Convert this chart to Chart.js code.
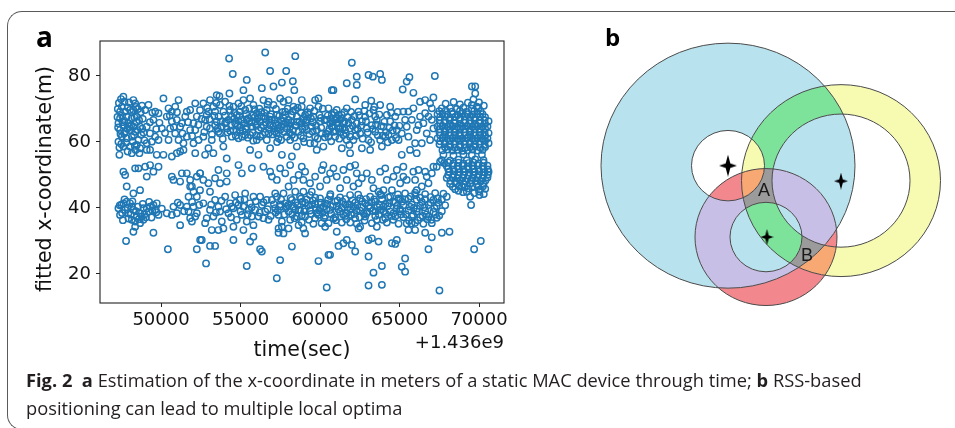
<!DOCTYPE html>
<html>
<head>
<meta charset="utf-8">
<script src="https://cdn.jsdelivr.net/npm/chart.js@4.4.0/dist/chart.umd.min.js"></script>
<style>
  html, body { margin: 0; padding: 0; background: #fff; }
  body { width: 955px; height: 428px; position: relative; overflow: hidden; font-family: "Open Sans", sans-serif; }
  #frame { position: absolute; left: 7px; top: 11px; width: 1000px; height: 419px; box-sizing: border-box;
           border: 1.3px solid #5a5a5a; border-right: none; border-radius: 15px 0 0 15px; }
  #chartA { position: absolute; left: 0; top: 0; }
  #chartB { position: absolute; left: 580px; top: 20px; }
  .panel { position: absolute; font-weight: 700; color: #000; line-height: 1; }
  #caption { position: absolute; left: 26px; top: 366px; font-size: 18.3px; line-height: 28px; color: #231f20; white-space: nowrap; }
  #caption b { font-weight: 700; }
</style>
</head>
<body>
<div id="frame"></div>
<canvas id="chartA" width="520" height="370"></canvas>
<canvas id="chartB" width="375" height="300"></canvas>
<div class="panel" style="left:36px; top:22px; font-size:28px;">a</div>
<div class="panel" style="left:605px; top:25px; font-size:24px;">b</div>
<div id="caption"><b>Fig. 2</b>&nbsp; <b>a</b> Estimation of the x-coordinate in meters of a static MAC device through time; <b>b</b> RSS-based<br>positioning can lead to multiple local optima</div>

<script>
// ---- panel a : fitted x-coordinate vs time (seconds after 1.436e9) ----
var OFFSET_LABEL = '+1.436e9';
var Y_TITLE = 'fitted x-coordinate(m)';
var xTicks = [50000, 55000, 60000, 65000, 70000];
var yTicks = [20, 40, 60, 80];

// 47000 - 52500 s
var ptsA = [
  [47630,73.7],[47700,72.2],[48260,72.7],[48370,71.7],[47530,70.7],[47420,69.2],[47740,69.2],[48050,69.7],[48260,69.7],[47420,67.2],
  [47840,67.7],[48160,67.2],[48470,67.7],[47320,65.7],[47630,65.1],[47950,65.7],[48260,64.6],[48680,64.6],[47420,63.6],[47740,63.1],
  [48050,63.6],[48370,63.1],[47530,61.6],[47840,61.1],[48160,61.6],[48580,60.6],[47320,60.1],[47630,58.6],[48050,58.6],[48470,59.1],
  [48680,58.1],[47380,56.1],[48160,56.6],[48640,56.6],[49100,57.6],[49210,71.2],[49630,69.2],[49000,69.7],[49520,66.7],[49100,64.6],
  [49310,62.6],[49630,61.6],[49420,60.1],[49100,59.6],[49840,60.6],[50150,56.1],[50680,55.6],[49730,56.1],[49310,57.6],[50150,73.2],
  [51100,72.7],[50470,70.2],[50680,69.2],[50360,67.7],[50990,66.7],[50570,64.1],[51200,64.6],[50890,62.6],[50470,60.6],[51100,60.6],
  [51410,59.6],[51200,57.1],[51620,61.6],[51830,63.6],[52040,65.7],[51520,67.7],[51830,69.7],[52150,71.7],[52250,67.7],[52150,63.6],
  [52040,59.6],[52150,56.6],[52360,60.6],[50990,56.6],[51410,57.6],[51310,65.7],[51620,69.2],[50680,66.2],[50050,64.1],[49840,68.7],
  [50890,70.7],
  [47350,71.8],[47550,68.0],[47700,66.4],[47900,70.5],[48000,64.6],[48150,69.0],[48300,62.1],[48450,66.0],[48550,70.0],[48750,62.2],
  [48850,67.0],[48950,60.5],[47450,62.4],[47800,59.8],[47380,58.3],[48400,57.6],[48800,71.0],[49300,66.0],[49450,68.9],[49700,63.9],
  [49900,65.8],[50250,62.7],[50550,68.0],[50800,64.5],[51000,69.0],[51350,62.6],[51700,66.0],[51950,61.8],[52350,65.2],[52450,69.6],
  [47280,70.0],[47480,73.0],[47580,66.0],[47680,62.6],[47880,64.0],[47980,72.0],[48120,65.1],[48220,60.1],[48330,67.4],[48420,70.6],
  [48520,63.6],[48620,66.6],[48720,69.0],[48820,64.0],[47300,64.4],[47500,59.4],[47900,57.1],[48350,58.8],[47260,67.6],[48900,62.8],
  [47630,51.0],[47740,50.0],[48370,52.0],[48580,52.0],[49000,52.5],[49310,53.0],[49520,51.0],[49840,52.5],[49100,49.5],[47840,46.5],
  [48260,44.4],[48680,45.4],[50680,49.5],[50780,48.5],[51200,48.0],[51310,50.5],[51620,50.5],[51830,48.5],[51940,46.5],[52040,44.9],
  [52250,49.5],[52460,50.5],
  [47320,39.9],[47420,37.9],[47630,41.4],[47840,41.9],[48050,41.4],[48160,40.4],[47740,39.4],[47950,38.4],[48260,39.4],[48160,36.4],
  [48370,35.9],[48470,37.4],[48680,38.4],[48790,37.4],[48890,36.4],[48370,34.3],[48680,35.4],[48890,39.9],[49100,39.9],[49310,40.4],
  [49520,40.9],[49630,39.4],[49210,38.9],[49840,37.9],[49730,41.4],[48260,32.8],[49520,32.5],[50360,38.4],[50780,40.4],[50680,37.9],
  [50990,38.4],[51200,40.9],[51620,40.4],[51730,38.9],[51830,36.9],[51940,35.9],[52150,37.4],[52250,38.4],[52040,40.4],[51200,34.8],
  [51730,43.4],[52250,43.4],[51830,46.5],
  [47500,41.0],[47900,40.1],[48100,38.0],[48550,40.4],[48950,38.0],[49400,37.1],[47600,36.3],[50050,39.8],[51050,41.6],[51450,39.0],
  [51950,41.8],[52400,40.9],
  [47400,40.8],[47700,42.6],[47950,36.8],[48200,42.0],[48420,39.0],[48600,36.6],[48850,41.2],[49050,37.2],[49250,41.8],[49450,39.2],
  [49700,38.7],[47550,38.5],
  [47800,30.0],[50430,27.5],[52250,27.5],[52460,30.3]
];

// 52500 - 58700 s
var ptsB = [
  [54280,85.3],[56550,87.1],[58440,86.0],[54510,80.6],[56860,81.5],[57870,81.5],[55390,78.8],[57600,78.0],[58290,78.4],[53500,74.2],
  [53670,73.9],[54300,74.7],[55180,75.7],[56340,76.3],[57070,76.8],[58380,75.7],
  [52660,71.7],[52980,69.2],[52770,66.7],[53080,64.1],[52660,61.6],[53290,70.7],[53610,67.7],[53400,65.1],[53710,62.6],[53190,60.6],
  [54030,72.2],[53920,69.2],[54240,66.7],[54130,64.1],[54450,61.6],[54550,70.7],[54760,68.2],[54660,65.7],[54970,63.6],[54870,61.1],
  [55180,72.7],[55290,69.7],[55500,67.2],[55390,64.6],[55600,62.1],[55810,71.2],[56020,68.7],[55920,66.2],[56130,63.6],[56230,61.6],
  [56440,72.7],[56650,69.7],[56550,67.2],[56860,65.1],[56760,62.6],[57070,71.2],[57280,68.2],[57180,65.7],[57490,63.6],[57390,61.1],
  [57700,72.2],[57810,69.2],[58020,66.7],[57910,64.1],[58230,62.1],[58330,70.7],[58540,67.7],[58440,65.1],[58650,63.1],[58120,60.6],
  [52870,68.2],[53500,66.2],[54340,69.7],[55080,66.7],[55710,64.6],[56340,67.7],[56970,66.7],[57600,66.2],[58230,68.2],[53820,64.6],
  [54550,63.6],[55290,62.1],[56020,60.6],[56650,60.6],[57280,62.6],[57910,61.6],[53080,72.7],[53710,71.2],[54870,71.7],[55600,73.2],
  [56760,72.2],[57490,73.2],[58020,72.7],[53400,69.2],[54450,67.7],[55810,68.2],[56440,65.1],[57700,67.2],[58440,69.7],[54970,69.2],
  [54030,65.7],[56860,67.7],[57390,65.1],[58120,64.6],[56230,66.2],[55390,66.7],[52870,64.6],[53610,63.1],
  [52550,67.0],[52720,63.0],[52900,70.3],[53050,66.9],[53200,62.3],[53350,67.9],[53480,71.8],[53560,64.0],[53770,66.1],[53880,60.9],
  [54020,68.0],[54180,62.9],[54300,70.9],[54400,65.0],[54600,67.0],[54700,61.9],[54820,64.9],[54930,67.9],[55050,70.8],[55140,63.3],
  [55240,65.6],[55350,68.5],[55460,61.3],[55550,70.2],[55680,66.0],[55760,62.9],[55880,69.9],[55990,64.9],[56080,67.3],[56180,70.1],
  [56290,64.3],[56390,62.2],[56500,68.8],[56600,65.9],[56700,71.3],[56800,63.9],[56910,68.4],[57020,62.3],[57120,66.8],[57230,70.0],
  [57330,64.1],[57440,67.9],[57550,60.6],[57650,69.1],[57750,63.0],[57860,66.0],[57960,70.1],[58070,62.9],[58180,66.0],[58280,69.3],
  [58390,61.3],[58500,64.9],[58600,70.4],
  [54100,66.0],[54350,63.3],[54600,68.9],[54850,66.4],[55100,61.6],[55300,64.0],[55550,66.2],[55800,60.4],[56050,65.4],[56300,69.0],
  [56550,62.9],[56800,66.8],[57050,64.6],[57300,60.0],[57550,64.8],[57800,68.2],[58050,65.5],[58300,63.6],[58550,66.1],[56000,62.0],
  [55000,64.4],[57700,65.4],[57150,63.2],[55900,67.6],[54750,63.3],
  [52980,58.1],[52770,56.1],[53290,56.6],[53920,58.6],[54130,55.0],[55600,57.6],[56130,56.1],[56860,58.1],[57600,56.1],[58540,58.6],
  [58230,55.6],
  [52450,50.5],[52660,48.5],[52980,47.5],[53400,49.0],[53710,47.5],[53610,51.5],[54130,50.5],[54130,48.0],[54870,53.0],[55080,50.5],
  [55710,52.0],[56440,52.5],[56860,51.0],[56970,49.5],[57280,48.5],[57490,52.0],[57810,50.5],[58020,46.5],[58330,48.5],[58440,44.9],
  [57700,44.4],[57180,44.4],[58120,53.0],[58650,50.0],[52450,45.4],[53080,44.9],
  [52660,41.4],[53080,39.4],[52870,36.9],[53400,42.4],[53610,40.4],[53290,37.4],[53820,35.9],[54030,43.4],[54340,41.4],[54240,38.4],
  [54550,39.9],[54760,36.4],[54970,42.4],[55180,40.4],[55080,37.9],[55390,35.9],[55600,41.4],[55810,43.4],[55920,39.4],[56130,37.4],
  [56340,40.9],[56550,38.9],[56760,36.4],[56970,42.4],[57180,39.9],[57390,37.9],[57600,35.9],[57810,41.4],[58020,38.9],[58230,42.4],
  [58330,40.4],[58540,37.4],[58650,34.8],[58120,36.4],[53710,38.9],[54660,43.9],[55290,44.4],[56230,43.4],[57280,43.4],[56650,42.4],
  [54870,40.9],[55500,39.4],[57910,40.4],[58440,39.4],[57490,40.4],[56440,36.9],[55710,37.4],[54450,40.4],
  [53150,41.0],[53450,38.6],[53800,42.2],[54100,39.6],[54400,37.2],[54700,41.6],[55000,39.0],[55250,42.6],[55450,38.1],[55700,40.2],
  [55950,42.0],[56200,38.6],[56450,41.7],[56700,39.6],[56900,37.6],[57100,41.1],[57350,39.2],[57550,42.6],[57750,38.0],[58000,40.9],
  [58250,38.1],[58450,41.6],[58650,39.4],
  [57200,38.6],[57500,41.1],[57850,39.9],[58150,43.0],[58400,36.9],[58600,40.8],
  [52770,35.4],[53190,33.3],[53610,33.3],[53920,33.8],[54550,34.3],[55180,33.3],[55810,34.8],[57390,33.8],[57700,32.3],[57600,34.3],
  [58020,33.8],[55810,31.3],[54550,30.3],[55600,29.8],[52560,30.3],[53080,28.5],[53400,28.5],[57390,32.5],[56230,27.5],[56340,26.8],
  [58230,28.3],[52830,23.2],[55390,22.4],[57490,24.2],[57280,18.7]
];

// 58700 - 65000 s
var ptsC = [
  [62000,84.0],[62310,79.8],[63050,80.3],[63780,80.6],[63320,79.8],[63890,78.8],[61680,77.8],[62310,77.3],[60740,75.7],[60840,75.7],
  [59900,73.2],[59690,72.7],[62210,72.9],[63220,72.5],
  [58850,72.7],[58850,70.7],[59060,68.2],[58850,65.7],[59160,63.6],[58950,61.1],[59370,59.6],[59690,61.6],[59480,64.6],[59580,67.7],
  [59900,70.7],[60000,66.2],[59790,57.6],[60210,58.6],[60110,62.6],[60530,70.2],[60740,68.2],[60630,65.7],[60840,63.1],[60530,61.6],
  [61050,69.7],[61260,66.7],[61160,64.1],[61470,62.1],[61370,68.2],[61680,70.2],[61790,65.7],[61580,63.6],[62000,66.7],[61890,61.6],
  [60950,66.7],[61370,58.1],[61890,56.6],[62100,60.6],[62210,63.6],[62420,69.2],[62630,66.2],[62520,62.6],[62840,67.7],[62940,64.1],
  [63050,60.6],[63150,57.6],[63360,69.7],[63570,66.7],[63470,63.1],[63780,60.6],[63890,58.6],[63990,64.6],[64200,68.2],[64310,62.1],
  [64410,66.2],[64520,60.6],[64730,67.7],[64830,63.6],[64940,60.6],[63780,71.2],[64410,70.7],[62840,71.2],[62630,58.1],[63260,65.1],
  [60740,64.6],[61050,65.7],[61260,64.1],[61470,65.7],[60950,61.6],[61680,60.6],[61160,68.2],[61890,64.1],[60420,66.7],[62310,65.7],
  [63470,67.7],[64100,61.6],[59160,66.7],[59370,70.2],
  [58700,66.2],[58800,68.9],[58900,63.9],[59000,60.0],[59110,65.9],[59220,69.0],[59320,62.4],[59430,67.1],[59540,63.1],[59640,69.4],
  [59750,65.0],[59850,61.0],[59960,68.2],[60070,64.3],[60170,70.1],[60280,66.6],[60380,62.5],[60490,68.0],[60590,64.0],[60700,60.2],
  [60800,66.1],[60900,68.9],[61000,63.2],[61110,66.0],[61210,61.0],[61320,67.1],[61420,64.2],[61530,69.0],[61630,62.6],[61740,67.5],
  [61840,59.1],[61950,69.1],[62050,64.9],[62160,67.8],[62260,61.9],[62370,63.9],[62470,68.1],[62580,64.9],[62680,61.0],[62790,69.4],
  [62890,66.3],[63000,62.9],[63100,68.6],[63210,59.9],[63310,63.9],[63420,70.6],[63520,65.3],[63630,62.0],[63730,68.3],[63840,64.8],
  [63940,61.9],[64050,66.1],[64150,63.0],[64260,59.9],[64360,64.3],[64470,68.9],[64570,63.5],[64680,65.0],[64780,61.2],[64880,69.1],
  [64990,64.9],
  [58800,61.9],[59050,64.6],[59300,68.3],[59550,66.0],[59800,63.6],[60050,67.3],[60300,61.4],[60550,63.3],[60800,64.8],[61050,67.1],
  [61300,63.0],[59650,59.6],[60650,67.0],[61550,66.2],[58950,66.9],
  [58850,52.5],[59060,51.0],[58950,48.5],[59370,47.5],[59690,49.5],[60110,51.5],[60210,53.0],[60000,46.5],[60420,48.5],[60630,50.5],
  [60840,52.0],[61050,49.5],[61470,51.5],[61680,48.5],[61890,52.5],[62210,53.0],[62310,50.5],[62100,46.5],[62420,47.5],[62630,49.0],
  [62940,50.5],[63260,48.5],[63360,46.0],[63780,51.0],[64100,52.0],[64200,48.5],[64620,49.5],[64830,51.5],[65040,47.5],[63990,45.4],
  [61260,46.0],[59480,44.9],
  [58740,43.4],[59370,43.9],[60000,42.9],[60630,43.6],[61260,43.2],[61890,43.9],[62520,42.9],[63150,43.4],[63780,44.2],[64410,43.4],
  [64940,42.9],[59060,41.6],[59690,41.2],[60320,41.4],[60950,41.9],[61580,41.1],[62210,41.6],[62840,41.4],[63470,41.9],[64100,41.2],
  [64730,41.6],[58740,39.4],[59370,39.2],[60000,39.9],[60630,39.4],[61260,38.9],[61890,39.6],[62520,39.2],[63150,39.9],[63780,39.4],
  [64410,38.9],[65040,39.6],[59060,37.4],[59690,36.9],[60320,37.6],[60950,37.2],[61580,37.6],[62210,36.9],[62840,37.4],[63470,37.6],
  [64100,36.9],[64730,37.4],[58850,35.6],[59580,35.2],[60530,35.4],[61370,35.6],[62310,35.2],[63260,35.4],[64200,35.6],[64940,35.2],
  [59160,42.6],[60210,40.4],[61050,40.6],[62100,40.4],[62940,38.4],[63990,40.4],[64620,38.4],[59790,38.4],[61680,38.4],[63570,36.4],
  [58950,44.9],[63680,44.9],[64520,45.4],
  [58850,37.7],[58900,41.9],[59050,39.6],[59250,40.7],[59450,38.2],[59550,42.3],[59750,40.0],[59900,37.9],[60050,41.6],[60150,38.5],
  [60400,39.6],[60500,42.4],[60700,38.2],[60800,40.5],[61000,36.3],[61100,42.3],[61350,40.0],[61450,38.0],[61600,42.7],[61750,40.2],
  [61950,37.9],[62050,42.3],[62300,39.3],[62400,44.0],[62600,40.2],[62750,38.3],[62900,42.7],[63050,40.6],[63300,39.1],[63400,42.6],
  [63600,40.3],[63700,38.0],[63900,42.6],[64000,39.0],[64250,40.5],[64300,43.2],[64500,37.6],[64600,42.0],[64800,39.8],[64900,44.1],
  [58800,42.8],[59000,38.9],[59300,36.4],[59500,41.0],[59700,43.1],[59950,39.2],[60250,37.0],[60450,41.2],[60650,44.2],[60850,36.8],
  [61150,39.6],[61400,42.0],[61650,36.6],[61850,41.0],[62150,38.2],[62350,40.8],[62650,42.0],[62800,36.2],[63000,38.9],[63250,41.7],
  [63500,39.0],[63750,41.0],[63950,36.4],[64150,38.2],[64350,41.4],[64600,36.4],[64850,40.7],[63850,43.9],[61900,35.6],[60100,35.4],
  [62500,37.2],
  [58950,33.8],[59060,32.3],[60320,34.3],[61050,32.8],[61680,30.3],[61470,29.3],[62000,28.8],[62520,34.3],[62420,33.8],[63050,30.3],
  [63260,30.8],[63570,34.3],[63680,29.8],[64520,29.3],[64730,29.1],[64830,30.3],
  [61160,28.5],[62210,26.8],[60530,25.8],[60630,25.8],[59900,23.9],[63050,25.3],[63360,20.4],[63890,22.4],[60420,15.9],[63050,16.5],
  [63890,16.7]
];

// 65000 - 70600 s
var ptsD = [
  [65620,79.6],[65450,78.3],[65200,75.9],[67220,80.0],[65870,74.9],[67130,73.5],[66290,72.2],[66610,72.7],[66920,71.7],[67030,70.2],
  [69550,76.8],[69760,76.8],[69760,74.7],[69650,72.9],[69550,71.2],[69860,70.7],
  [65240,69.2],[65560,69.2],[65770,66.7],[65450,64.6],[65140,62.6],[65560,61.6],[66080,63.6],[66290,67.7],[66500,65.7],[66710,62.6],
  [66400,59.6],[66920,60.6],[65980,59.6],[65660,57.6],[67030,66.7],[66610,68.7],[67130,64.1],[66080,56.6],[65140,56.1],[65870,70.2],
  [66190,65.1],[65350,66.7],[66820,67.7],
  [67900,71.6],[68400,72.1],[68800,71.4],[69300,71.9],[70000,72.0],[70300,71.0],
  [67660,70.2],[68180,70.2],[68600,70.0],[69020,70.4],[69550,70.1],[69970,70.3],
  [67500,69.3],[67900,69.5],[68300,69.2],[68800,69.4],[69200,69.1],[69700,69.4],[70100,69.3],
  [67390,68.4],[67700,68.6],[68020,68.3],[68330,68.5],[68650,68.2],[68960,68.6],[69280,68.4],[69590,68.3],[69900,68.5],[70220,68.4],
  [67550,67.5],[67860,67.7],[68180,67.4],[68490,67.6],[68810,67.3],[69120,67.8],[69440,67.5],[69750,67.4],[70070,67.7],[70380,67.5],
  [67510,66.6],[67830,66.4],[68140,66.7],[68460,66.5],[68770,66.8],[69090,66.6],[69400,66.4],[69720,66.7],[70030,66.5],[70350,66.6],[70600,66.3],
  [67550,65.6],[67860,65.8],[68180,65.4],[68490,65.7],[68810,65.5],[69120,65.8],[69440,65.6],[69750,65.4],[70070,65.7],[70380,65.5],
  [67390,64.7],[67700,64.9],[68020,64.6],[68330,64.8],[68650,64.5],[68960,64.7],[69280,64.9],[69590,64.6],[69900,64.8],[70220,64.5],[70530,64.7],
  [67550,63.8],[67860,63.6],[68180,63.9],[68490,63.7],[68810,64.0],[69120,63.8],[69440,63.6],[69750,63.9],[70070,63.7],[70380,64.0],
  [67510,62.9],[67830,63.1],[68140,62.8],[68460,63.0],[68770,62.7],[69090,62.9],[69400,63.1],[69720,62.8],[70030,63.0],[70350,62.9],[70600,62.7],
  [67550,62.0],[67860,62.2],[68180,61.9],[68490,62.1],[68810,61.8],[69120,62.0],[69440,62.2],[69750,61.9],[70070,62.1],[70380,61.8],
  [67390,61.1],[67700,61.3],[68020,61.0],[68330,61.2],[68650,60.9],[68960,61.1],[69280,61.3],[69590,61.0],[69900,61.2],[70220,60.9],[70530,61.1],
  [67550,60.2],[67860,60.0],[68180,60.3],[68490,60.1],[68810,60.4],[69120,60.2],[69440,60.0],[69750,60.3],[70070,60.1],[70380,60.4],
  [67510,59.3],[67830,59.5],[68140,59.2],[68460,59.4],[68770,59.1],[69090,59.3],[69400,59.5],[69720,59.2],[70030,59.4],[70350,59.1],[70600,59.6],
  [67860,58.4],[68180,58.6],[68490,58.3],[68810,58.5],[69120,58.2],[69440,58.4],[69750,58.6],[70070,58.3],[70380,58.5],
  [67700,57.5],[68020,57.7],[68330,57.4],[68650,57.6],[68960,57.3],[69280,57.5],[69590,57.7],[69900,57.4],[70220,57.6],
  [67760,56.1],[68390,55.9],[69020,56.2],[69550,56.0],[70180,56.1],
  [67660,54.5],[68180,54.3],[68710,54.6],[69230,54.4],[69760,54.7],[70280,54.5],
  [67800,53.6],[68060,53.8],[68390,53.5],[68710,53.7],[69020,53.4],[69340,53.6],[69650,53.8],[69970,53.5],[70290,53.7],
  [67970,52.7],[68330,52.9],[68650,52.6],[68960,52.8],[69280,52.5],[69590,52.7],[69900,52.9],[70220,52.6],[70530,52.8],
  [68060,51.8],[68390,51.6],[68710,51.9],[69020,51.7],[69340,52.0],[69650,51.8],[69970,51.6],[70290,51.9],[70550,51.7],
  [68140,50.9],[68460,51.1],[68770,50.8],[69090,51.0],[69400,50.7],[69720,50.9],[70030,51.1],[70350,50.8],[70600,51.0],
  [68060,50.0],[68390,50.2],[68710,49.9],[69020,50.1],[69340,49.8],[69650,50.0],[69970,50.2],[70290,49.9],[70550,50.1],
  [67970,49.1],[68330,49.3],[68650,49.0],[68960,49.2],[69280,48.9],[69590,49.1],[69900,49.3],[70220,49.0],[70530,49.2],
  [68200,48.2],[68500,48.0],[68800,48.3],[69150,48.1],[69500,48.4],[69800,48.2],[70100,48.0],[70400,48.3],
  [68180,47.3],[68600,47.5],[69020,47.2],[69440,47.4],[69860,47.1],[70280,47.3],
  [68350,46.4],[68750,46.6],[69100,46.3],[69600,46.5],[69950,46.4],[70250,46.6],
  [68500,45.7],[69340,45.9],[70070,45.6],[70390,45.8],
  [69700,44.5],[70000,45.0],[70300,44.2],[69000,44.8],[68700,45.2],
  [69500,40.9],[70030,43.9],[69440,43.4],[69230,44.9],[68920,46.5],[67550,54.0],[67340,52.5],
  [65240,52.5],[65870,51.0],[66190,51.5],[65980,48.5],[66610,51.0],[66710,49.5],[67030,50.5],[67130,52.5],[66400,46.5],[66820,47.5],
  [65450,48.5],[66080,45.4],[65240,49.5],
  [65350,44.4],[65980,44.6],[66610,44.2],[67240,44.5],[67760,44.3],
  [65030,42.6],[65560,42.8],[66080,42.5],[66610,42.7],[67130,42.4],[67660,42.6],
  [65240,40.8],[65770,41.0],[66290,40.7],[66820,40.9],[67340,40.6],[67870,40.8],
  [65030,39.0],[65560,39.2],[66080,38.9],[66610,39.1],[67130,38.8],[67660,39.0],
  [65240,37.2],[65770,37.4],[66290,37.1],[66820,37.3],[67340,37.0],
  [65450,35.3],[65980,35.5],[66500,35.2],[67030,35.4],[67970,43.4],
  [65150,41.9],[65400,38.1],[65700,43.5],[65900,40.0],[66150,36.3],[66400,41.8],[66700,38.0],[66950,43.3],[67200,39.9],[67450,41.6],
  [67500,37.7],[65600,36.1],[66000,43.9],[67000,36.4],
  [65100,38.1],[65350,42.6],[65650,40.4],[65850,37.9],[66100,39.8],[66300,43.1],[66550,40.2],[66750,36.6],[66950,41.6],[67250,38.0],
  [67400,42.9],[65750,35.3],[66450,37.6],
  [65560,33.3],[65980,33.3],[66610,32.5],[67030,31.1],[67660,32.5],[68140,32.8],[66820,27.5],[65350,24.7],[65140,22.2],[65350,20.7],
  [69690,27.5],[70110,30.0],[67510,15.0]
];

// ---- panel b : three RSS rings (arbitrary units, y up) ----
var ringCx    = [0, 113, 38];
var ringCy    = [0, -15.5, -74];
var ringOuter = [127, 99.5, 71];
var ringInner = [36.5, 69, 36];
var starX = [0, 113, 39];
var starY = [0, -16, -74];
var optimaNames = ['A', 'B'];
var optimaX = [36, 79];
var optimaY = [-26, -94];

// colours for blue(1) / yellow(2) / purple(4) overlaps
var regionColors = [null, '#b8e2ee', '#f7fbb2', '#7de39b', '#f2878d', '#c8bfe6', '#f8a872', '#9b9b9b'];

var scatterData = ptsA.concat(ptsB, ptsC, ptsD).map(function (p) { return {x: p[0], y: p[1]}; });

var tickFont = {family: 'DejaVu Sans', size: 18};
var titleFont = {family: 'DejaVu Sans', size: 20.5};

var frameBox = {
  id: 'frameBox',
  afterDraw: function (chart) {
    var ctx = chart.ctx, a = chart.chartArea;
    ctx.save();
    ctx.strokeStyle = '#222';
    ctx.lineWidth = 1.1;
    ctx.strokeRect(a.left, a.top, a.right - a.left, a.bottom - a.top);
    ctx.font = '18px "DejaVu Sans"';
    ctx.fillStyle = '#111';
    ctx.textAlign = 'right';
    ctx.textBaseline = 'middle';
    ctx.fillText(OFFSET_LABEL, a.right, a.bottom + 40);
    // y title, centred a little below the axes middle as in the figure
    ctx.font = '20.5px "DejaVu Sans"';
    ctx.textAlign = 'center';
    ctx.translate(46, (a.top + a.bottom) / 2 + 7);
    ctx.rotate(-Math.PI / 2);
    ctx.fillText(Y_TITLE, 0, 0);
    ctx.restore();
  }
};

new Chart(document.getElementById('chartA'), {
  type: 'scatter',
  data: {
    datasets: [{
      data: scatterData,
      pointStyle: 'circle',
      pointRadius: 3.2,
      borderWidth: 1.45,
      borderColor: '#1f77b4',
      backgroundColor: 'rgba(0,0,0,0)'
    }]
  },
  options: {
    responsive: false,
    animation: false,
    devicePixelRatio: 1,
    events: [],
    layout: {autoPadding: false, padding: {left: 0, top: 41, right: 16, bottom: 7}},
    plugins: {legend: {display: false}, tooltip: {enabled: false}},
    scales: {
      x: {
        type: 'linear', min: 46160, max: 71570,
        afterBuildTicks: function (s) { s.ticks = xTicks.map(function (v) { return {value: v}; }); },
        afterFit: function (s) { s.height = 60; },
        ticks: {font: tickFont, color: '#111', padding: 3, maxRotation: 0, autoSkip: false,
                callback: function (v) { return String(v); }},
        grid: {display: true, drawOnChartArea: false, tickLength: 4, color: '#222', lineWidth: 1},
        border: {display: false},
        title: {display: true, text: 'time(sec)', font: titleFont, color: '#111', padding: {top: 0, bottom: 0}}
      },
      y: {
        type: 'linear', min: 11.2, max: 90.6,
        afterBuildTicks: function (s) { s.ticks = yTicks.map(function (v) { return {value: v}; }); },
        afterFit: function (s) { s.width = 100; },
        ticks: {font: tickFont, color: '#111', padding: 5, callback: function (v) { return String(v); }},
        grid: {display: true, drawOnChartArea: false, tickLength: 4, color: '#222', lineWidth: 1},
        border: {display: false},
        title: {display: false}
      }
    }
  },
  plugins: [frameBox]
});

// ---- panel b ----
function starCanvas(w, h) {
  var c = document.createElement('canvas');
  c.width = w; c.height = h;
  var g = c.getContext('2d');
  var cx = w / 2, cy = h / 2, k = w * 0.13;
  g.beginPath();
  g.moveTo(cx, 0);
  g.lineTo(cx + k, cy - k);
  g.lineTo(w, cy);
  g.lineTo(cx + k, cy + k);
  g.lineTo(cx, h);
  g.lineTo(cx - k, cy + k);
  g.lineTo(0, cy);
  g.lineTo(cx - k, cy - k);
  g.closePath();
  g.fillStyle = '#000';
  g.fill();
  return c;
}

var ringsPlugin = {
  id: 'rings',
  beforeDatasetsDraw: function (chart) {
    var ctx = chart.ctx, xs = chart.scales.x, ys = chart.scales.y;
    var W = chart.width, H = chart.height;
    var rings = ringCx.map(function (cx, i) {
      var px = xs.getPixelForValue(cx), py = ys.getPixelForValue(ringCy[i]);
      var sx = xs.getPixelForValue(cx + 1) - px, sy = py - ys.getPixelForValue(ringCy[i] + 1);
      return {px: px, py: py, ox: ringOuter[i] * sx, oy: ringOuter[i] * sy, ix: ringInner[i] * sx, iy: ringInner[i] * sy};
    });
    function addRing(r) {
      ctx.moveTo(r.px + r.ox, r.py);
      ctx.ellipse(r.px, r.py, r.ox, r.oy, 0, 0, Math.PI * 2);
      ctx.moveTo(r.px + r.ix, r.py);
      ctx.ellipse(r.px, r.py, r.ix, r.iy, 0, 0, Math.PI * 2);
    }
    for (var m = 1; m < 8; m++) {
      ctx.save();
      rings.forEach(function (r, i) {
        ctx.beginPath();
        if (!(m & (1 << i))) ctx.rect(-10, -10, W + 20, H + 20);
        addRing(r);
        ctx.clip('evenodd');
      });
      ctx.fillStyle = regionColors[m];
      ctx.fillRect(0, 0, W, H);
      ctx.restore();
    }
    ctx.save();
    ctx.strokeStyle = '#4a4a4a';
    ctx.lineWidth = 1;
    rings.forEach(function (r) {
      ctx.beginPath();
      ctx.ellipse(r.px, r.py, r.ox, r.oy, 0, 0, Math.PI * 2);
      ctx.stroke();
      ctx.beginPath();
      ctx.ellipse(r.px, r.py, r.ix, r.iy, 0, 0, Math.PI * 2);
      ctx.stroke();
    });
    ctx.restore();
  },
  afterDatasetsDraw: function (chart) {
    var ctx = chart.ctx, xs = chart.scales.x, ys = chart.scales.y;
    ctx.save();
    ctx.font = '18px "Liberation Sans"';
    ctx.fillStyle = '#1a1a1a';
    ctx.textAlign = 'center';
    ctx.textBaseline = 'middle';
    optimaNames.forEach(function (t, i) {
      ctx.fillText(t, xs.getPixelForValue(optimaX[i]), ys.getPixelForValue(optimaY[i]));
    });
    ctx.restore();
  }
};

new Chart(document.getElementById('chartB'), {
  type: 'scatter',
  data: {
    datasets: [{
      data: starX.map(function (x, i) { return {x: x, y: starY[i]}; }),
      pointStyle: [starCanvas(18, 22), starCanvas(14, 17), starCanvas(13, 16)],
      pointRadius: 8
    }]
  },
  options: {
    responsive: false,
    animation: false,
    devicePixelRatio: 1,
    events: [],
    layout: {autoPadding: false, padding: 0},
    plugins: {legend: {display: false}, tooltip: {enabled: false}},
    scales: {
      x: {type: 'linear', min: -148, max: 227, display: false},
      y: {type: 'linear', min: -160, max: 151, display: false}
    }
  },
  plugins: [ringsPlugin]
});
</script>
</body>
</html>
